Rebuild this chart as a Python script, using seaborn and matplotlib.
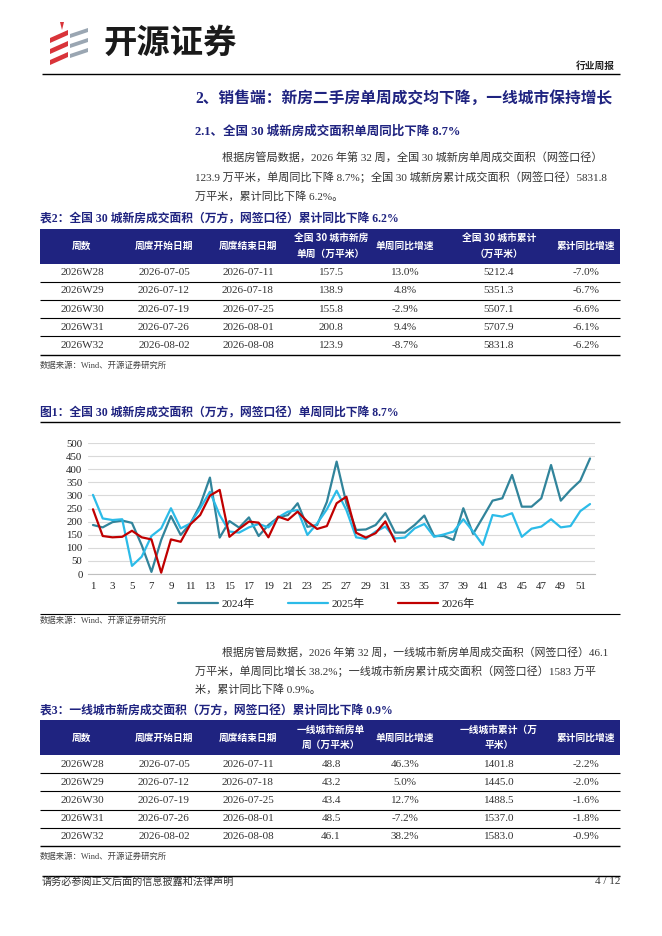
import matplotlib
matplotlib.use('Agg')
import matplotlib.pyplot as plt
from matplotlib.patches import Rectangle, Polygon
import seaborn as sns
import pandas as pd

# --
# Data

weeks = list(range(1, 53))
area_2024 = [187, 178, 198, 204, 195, 110, 8, 130, 221, 149, 193, 263, 368, 139, 202, 177,
             216, 145, 187, 216, 225, 270, 180, 187, 275, 429, 270, 168, 170, 187, 232, 158,
             158, 187, 223, 145, 145, 130, 251, 153, 216, 280, 289, 378, 257, 257, 289, 416,
             280, 321, 356, 441]
area_2025 = [302, 212, 206, 209, 31, 66, 145, 174, 251, 174, 193, 251, 314, 225, 162, 158,
             178, 191, 178, 216, 238, 244, 149, 193, 247, 318, 244, 140, 134, 162, 181, 136,
             139, 174, 191, 142, 151, 162, 209, 162, 111, 225, 219, 232, 142, 173, 181, 209,
             178, 183, 240, 267]
area_2026 = [247, 145, 140, 142, 165, 140, 132, 5, 132, 123, 190, 225, 299, 321, 142, 172,
             200, 196, 140, 219, 206, 238, 200, 172, 183, 270, 295, 157.5, 138.9, 155.8,
             200.8, 123.9]
years = ['2024年', '2025年', '2026年']

tbl_weeks = ['2026W28', '2026W29', '2026W30', '2026W31', '2026W32']
tbl_start = ['2026-07-05', '2026-07-12', '2026-07-19', '2026-07-26', '2026-08-02']
tbl_end = ['2026-07-11', '2026-07-18', '2026-07-25', '2026-08-01', '2026-08-08']

t2_head = ['周数', '周度开始日期', '周度结束日期', '全国 30 城市新房\n单周（万平米）',
           '单周同比增速', '全国 30 城市累计\n（万平米）', '累计同比增速']
t2_week = ['157.5', '138.9', '155.8', '200.8', '123.9']
t2_wyoy = ['13.0%', '4.8%', '-2.9%', '9.4%', '-8.7%']
t2_cum = ['5212.4', '5351.3', '5507.1', '5707.9', '5831.8']
t2_cyoy = ['-7.0%', '-6.7%', '-6.6%', '-6.1%', '-6.2%']

t3_head = ['周数', '周度开始日期', '周度结束日期', '一线城市新房单\n周（万平米）',
           '单周同比增速', '一线城市累计（万\n平米）', '累计同比增速']
t3_week = ['48.8', '43.2', '43.4', '48.5', '46.1']
t3_wyoy = ['46.3%', '5.0%', '12.7%', '-7.2%', '38.2%']
t3_cum = ['1401.8', '1445.0', '1488.5', '1537.0', '1583.0']
t3_cyoy = ['-2.2%', '-2.0%', '-1.6%', '-1.8%', '-0.9%']

# --
# Style

sns.set_style('white')
SERIF = ['Liberation Serif', 'Noto Sans CJK SC']
plt.rcParams['font.family'] = SERIF
NAVY = '#1f2380'
TXT = '#333333'
c_2024 = '#31849b'
c_2025 = '#2cbbe8'
c_2026 = '#c00000'

fig = plt.figure(figsize=(6.62, 9.36), dpi=100)
page = fig.add_axes([0, 0, 1, 1])
page.set_xlim(0, 662)
page.set_ylim(936, 0)
page.axis('off')


def T(x, y, s, size=8.0, color=TXT, weight='normal', ha='left', va='center', family=SERIF,
      ls=1.2):
    page.text(x, y, s, fontsize=size, color=color, fontweight=weight, ha=ha, va=va,
              family=family, linespacing=ls)


def hline(y, x0=40, x1=620, lw=0.9, color='black'):
    page.plot([x0, x1], [y, y], color=color, lw=lw, solid_capstyle='butt')


# --
# Header

for yy in [30, 41, 52]:
    page.add_patch(Polygon([[50, yy + 8], [68, yy], [68, yy + 5], [50, yy + 13]],
                           closed=True, color='#d9343a', lw=0))
for yy in [28, 38, 48]:
    page.add_patch(Polygon([[70, yy + 6], [88, yy], [88, yy + 4], [70, yy + 10]],
                           closed=True, color='#9aa6b2', lw=0))
page.add_patch(Polygon([[60, 22], [64, 22], [62, 30]], closed=True, color='#d9343a', lw=0))
T(104, 43, '开源证券', size=24, color='#1a1a1a', weight='bold',
  family=['Noto Sans CJK SC'])
T(615, 66, '行业周报', size=7, color='#222222', weight='bold', ha='right')
hline(74, 42, 620, lw=1.0)

T(195, 99, '2、销售端：新房二手房单周成交均下降，一线城市保持增长', size=11.3, color=NAVY,
  weight='bold')
T(195, 132, '2.1、全国 30 城新房成交面积单周同比下降 8.7%', size=9, color=NAVY, weight='bold')

T(222, 158, '根据房管局数据，2026 年第 32 周，全国 30 城新房单周成交面积（网签口径）')
T(195, 177, '123.9 万平米，单周同比下降 8.7%；全国 30 城新房累计成交面积（网签口径）5831.8')
T(195, 196, '万平米，累计同比下降 6.2%。')


# --
# Tables


def draw_table(title, ytitle, head, cols, ytop):
    col_x = [82, 164, 248, 331, 405, 499, 586]
    T(40, ytitle, title, size=8.5, color=NAVY, weight='bold')
    hh = 35
    rh = 18.2
    page.add_patch(Rectangle((40, ytop), 580, hh, color=NAVY, lw=0))
    for cx, h in zip(col_x, head):
        T(cx, ytop + hh / 2, h, size=7, color='white', weight='bold', ha='center',
          family=['Noto Sans CJK SC'], ls=1.7)

    for r in range(len(cols[0])):
        yc = ytop + hh + rh * (r + 0.5)
        for cx, col in zip(col_x, cols):
            T(cx, yc, col[r], size=8, ha='center')
        hline(ytop + hh + rh * (r + 1), lw=1.0 if r == len(cols[0]) - 1 else 0.8)
    T(40, ytop + hh + rh * len(cols[0]) + 11, '数据来源：Wind、开源证券研究所', size=6.0,
      color='#444444')


draw_table('表2：全国 30 城新房成交面积（万方，网签口径）累计同比下降 6.2%', 219, t2_head,
           [tbl_weeks, tbl_start, tbl_end, t2_week, t2_wyoy, t2_cum, t2_cyoy], 228.5)

T(40, 413, '图1：全国 30 城新房成交面积（万方，网签口径）单周同比下降 8.7%', size=8.5,
  color=NAVY, weight='bold')
hline(422, lw=1.0)
hline(614, lw=0.8)
T(40, 621, '数据来源：Wind、开源证券研究所', size=6.0, color='#444444')

T(222, 652, '根据房管局数据，2026 年第 32 周，一线城市新房单周成交面积（网签口径）46.1',
  size=7.8)
T(195, 671, '万平米，单周同比增长 38.2%；一线城市新房累计成交面积（网签口径）1583 万平')
T(195, 689, '米，累计同比下降 0.9%。')

draw_table('表3：一线城市新房成交面积（万方，网签口径）累计同比下降 0.9%', 711, t3_head,
           [tbl_weeks, tbl_start, tbl_end, t3_week, t3_wyoy, t3_cum, t3_cyoy], 720)

hline(876, 42, 620, lw=1.0)
T(42, 882, '请务必参阅正文后面的信息披露和法律声明', size=7.3, color='#333333')
T(620, 882, '4 / 12', size=8, color='#333333', ha='right')

# --
# Line chart

df = pd.concat([
    pd.DataFrame({'week': weeks, 'area': area_2024, 'year': years[0]}),
    pd.DataFrame({'week': weeks, 'area': area_2025, 'year': years[1]}),
    pd.DataFrame({'week': weeks[:len(area_2026)], 'area': area_2026, 'year': years[2]}),
])

x0, x1 = 88.1, 594.9
ax = fig.add_axes([x0 / 662, 1 - 574 / 936, (x1 - x0) / 662, (574 - 443) / 936])
sns.lineplot(data=df, x='week', y='area', hue='year', hue_order=years,
             palette=[c_2024, c_2025, c_2026], linewidth=1.6, ax=ax, legend=True)
ax.set_xlim(0.5, 52.5)
ax.set_ylim(0, 500)
ax.set_yticks(range(0, 501, 50))
ax.set_xticks(weeks)
ax.set_xticklabels([str(w) if w % 2 == 1 else '' for w in weeks])
ax.grid(axis='y', color='#d9d9d9', lw=0.8)
ax.set_axisbelow(True)
for s in ['top', 'right', 'left']:
    ax.spines[s].set_visible(False)
ax.spines['bottom'].set_color('#bfbfbf')
ax.spines['bottom'].set_linewidth(0.8)
ax.tick_params(axis='x', length=3, color='#bfbfbf', labelsize=7.8, pad=3, labelcolor='#222222')
ax.tick_params(axis='y', length=0, labelsize=7.8, pad=4, labelcolor='#222222')
ax.set_xlabel('')
ax.set_ylabel('')
ax.patch.set_alpha(0)
leg = ax.legend(loc='upper center', bbox_to_anchor=(0.47, -0.13), ncol=3, frameon=False,
                fontsize=8, handlelength=3.6, columnspacing=3.0, handletextpad=0.3,
                borderpad=0.2)
for t in leg.get_texts():
    t.set_color('#222222')

fig.savefig('out.png', dpi=100)
